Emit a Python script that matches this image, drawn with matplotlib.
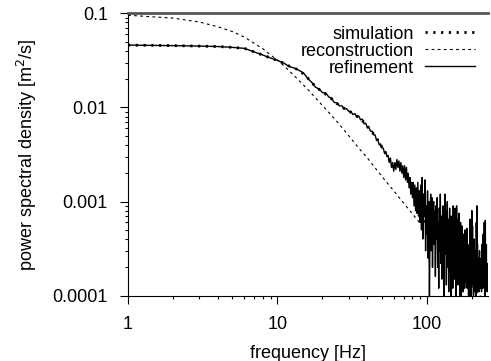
import matplotlib
matplotlib.use("Agg")
import matplotlib.pyplot as plt
from matplotlib.ticker import LogLocator, NullFormatter, FixedLocator, FixedFormatter
import numpy as np

plt.rcParams['font.family'] = ['Liberation Sans', 'DejaVu Sans']

# simulation (smooth, thick dotted)
sim_freq = [1, 2, 3, 4, 5, 6, 7, 8, 9, 10, 11, 12, 14, 16, 18, 20, 22, 25, 28, 32,
            36, 40, 45, 50, 55, 60, 65, 70, 75, 80, 85, 90, 100, 110, 120, 130, 140,
            150, 160, 175, 190, 200, 215, 230, 245, 256]
sim_psd = [4.60e-2, 4.54e-2, 4.49e-2, 4.44e-2, 4.35e-2, 4.25e-2, 3.89e-2, 3.60e-2,
           3.35e-2, 3.16e-2, 2.95e-2, 2.75e-2, 2.49e-2, 2.04e-2, 1.66e-2, 1.46e-2,
           1.32e-2, 1.10e-2, 9.77e-3, 8.63e-3, 7.59e-3, 6.31e-3, 5.01e-3, 3.80e-3,
           2.95e-3, 2.34e-3, 2.51e-3, 2.14e-3, 1.74e-3, 1.32e-3, 1.15e-3, 9.55e-4,
           5.0e-4, 3.8e-4, 3.4e-4, 3.0e-4, 2.7e-4, 2.4e-4, 2.2e-4, 1.9e-4, 1.66e-4,
           1.55e-4, 1.38e-4, 1.32e-4, 1.26e-4, 1.26e-4]

# reconstruction (thin dashed)
rec_freq = [1, 2, 3, 4, 5, 6, 7, 8, 9, 10, 12, 14, 16, 18, 20, 25, 30, 35, 40, 50,
            60, 70, 80, 90, 100, 120, 140, 160, 180, 200, 225, 256]
rec_psd = [0.0955, 0.089, 0.081, 0.072, 0.064, 0.056, 0.048, 0.042, 0.036, 0.032,
           0.0245, 0.0192, 0.0155, 0.0126, 0.0105, 0.0071, 0.0050, 0.0037, 0.0029,
           0.00185, 0.00130, 0.00096, 0.00074, 0.00059, 0.00048, 0.00034, 0.00025,
           0.000195, 0.000155, 0.000127, 0.000101, 0.000080]

# refinement (thin solid), one value per Hz from 1 to 256
ref_freq = list(range(1, 257))
ref_psd = [
    4.60e-2, 4.54e-2, 4.49e-2, 4.44e-2, 4.35e-2, 4.25e-2, 3.89e-2, 3.60e-2, 3.35e-2, 3.16e-2,
    2.97e-2, 2.72e-2, 2.62e-2, 2.47e-2, 2.31e-2, 2.02e-2, 1.84e-2, 1.64e-2, 1.57e-2, 1.44e-2,
    1.43e-2, 1.30e-2, 1.25e-2, 1.13e-2, 1.12e-2, 1.04e-2, 1.04e-2, 9.6e-3, 9.7e-3, 9.1e-3,
    9.1e-3, 8.4e-3, 8.6e-3, 7.9e-3, 8.1e-3, 7.4e-3, 7.5e-3, 6.7e-3, 6.8e-3, 6.1e-3,
    6.1e-3, 5.6e-3, 5.6e-3, 5.1e-3, 5.1e-3, 4.5e-3, 4.5e-3, 4.0e-3, 4.1e-3, 3.7e-3,
    3.7e-3, 3.3e-3, 3.4e-3, 3.0e-3, 3.1e-3, 2.6e-3, 2.9e-3, 2.3e-3, 2.6e-3, 2.1e-3,
    2.6e-3, 2.2e-3, 2.8e-3, 2.3e-3, 2.7e-3, 2.1e-3, 2.6e-3, 2.0e-3, 2.4e-3, 1.8e-3,
    2.4e-3, 1.7e-3, 2.3e-3, 1.6e-3, 2.0e-3, 1.4e-3, 1.8e-3, 1.2e-3, 1.6e-3, 1.1e-3,
    1.6e-3, 9.0e-4, 1.5e-3, 8.0e-4, 1.4e-3, 7.5e-4, 1.6e-3, 7.0e-4, 1.3e-3, 6.0e-4,
    1.5e-3, 5.0e-4, 1.8e-3, 4.0e-4, 1.2e-3, 7.0e-4, 1.7e-3, 3.0e-4, 9.0e-4, 4.5e-4,
    1.3e-3, 2.5e-4, 1.0e-3, 8.0e-5, 7.0e-4, 1.2e-3, 3.0e-4, 1.1e-3, 2.0e-4, 6.0e-4,
    1.0e-3, 3.5e-4, 8.0e-4, 1.6e-4, 9.0e-4, 4.0e-4, 1.1e-3, 2.0e-4, 6.0e-4, 1.2e-4,
    8.5e-4, 3.0e-4, 1.2e-3, 2.2e-4, 7.0e-4, 1.5e-4, 5.0e-4, 9.0e-4, 2.5e-4, 7.0e-5,
    6.0e-4, 1.2e-3, 3.0e-4, 8.0e-4, 1.3e-4, 5.5e-4, 1.0e-3, 2.0e-4, 6.5e-4, 1.1e-4,
    4.0e-4, 8.5e-4, 1.8e-4, 5.0e-4, 1.0e-4, 7.0e-4, 2.5e-4, 4.5e-4, 1.2e-4, 9.0e-4,
    3.0e-4, 5.5e-4, 1.5e-4, 8.5e-4, 2.0e-4, 4.0e-4, 6.0e-5, 9.0e-4, 2.5e-4, 5.0e-4,
    1.3e-4, 6.5e-4, 3.0e-4, 7.5e-4, 1.6e-4, 4.5e-4, 1.0e-4, 6.0e-4, 2.2e-4, 7.0e-5,
    4.0e-4, 5.5e-4, 1.4e-4, 3.5e-4, 1.1e-4, 4.5e-4, 2.0e-4, 3.0e-4, 1.2e-4, 5.0e-4,
    2.5e-4, 1.4e-4, 4.0e-4, 1.8e-4, 5.2e-4, 1.2e-4, 3.0e-4, 1.5e-4, 2.4e-4, 6.0e-5,
    2.0e-4, 3.5e-4, 1.0e-4, 6.5e-4, 1.5e-4, 2.8e-4, 1.1e-4, 7.0e-5, 3.0e-4, 8.0e-4,
    2.0e-4, 5.5e-4, 1.3e-4, 3.0e-4, 1.0e-4, 2.2e-4, 4.0e-4, 1.5e-4, 2.5e-4, 1.1e-4,
    3.0e-4, 1.4e-4, 7.0e-5, 6.0e-4, 2.0e-4, 9.0e-4, 1.3e-4, 3.5e-4, 1.1e-4, 2.5e-4,
    1.5e-4, 2.0e-4, 1.1e-4, 1.6e-4, 3.0e-4, 1.3e-4, 2.2e-4, 1.2e-4, 1.8e-4, 1.4e-4,
    2.5e-4, 1.1e-4, 1.7e-4, 3.5e-4, 1.2e-4, 2.0e-4, 1.4e-4, 4.5e-4, 1.6e-4, 2.3e-4,
    1.2e-4, 6.0e-4, 1.7e-4, 3.0e-4, 6.0e-5, 6.3e-4, 1.8e-4, 2.6e-4, 1.3e-4, 3.5e-4,
    1.4e-4, 2.2e-4, 1.1e-4, 1.8e-4, 1.3e-4, 2.0e-4,
]

x_ticks = [1, 10, 100]
x_tick_labels = ["1", "10", "100"]
y_ticks = [0.0001, 0.001, 0.01, 0.1]
y_tick_labels = ["0.0001", "0.001", "0.01", "0.1"]

fig = plt.figure(figsize=(4.91, 3.61), dpi=100)
ax = fig.add_axes([0.2607, 0.181, 0.733, 0.782])

ax.plot(sim_freq, sim_psd, color="black", lw=2.0, linestyle=(0, (0.8, 2.0)),
        label="simulation", zorder=2)
ax.plot(rec_freq, rec_psd, color="black", lw=0.8, linestyle=(0, (2.5, 3)),
        label="reconstruction", zorder=3)
ax.plot(ref_freq, ref_psd, color="black", lw=1.0, label="refinement", zorder=4)

ax.set_xscale("log")
ax.set_yscale("log")
ax.set_xlim(1, 256)
ax.set_ylim(0.0001, 0.1)

ax.xaxis.set_major_locator(FixedLocator(x_ticks))
ax.xaxis.set_major_formatter(FixedFormatter(x_tick_labels))
ax.yaxis.set_major_locator(FixedLocator(y_ticks))
ax.yaxis.set_major_formatter(FixedFormatter(y_tick_labels))
ax.xaxis.set_minor_locator(LogLocator(base=10, subs=np.arange(2, 10)))
ax.yaxis.set_minor_locator(LogLocator(base=10, subs=np.arange(2, 10)))
ax.xaxis.set_minor_formatter(NullFormatter())
ax.yaxis.set_minor_formatter(NullFormatter())

ax.tick_params(which="major", direction="out", length=5.5, width=0.8,
               labelsize=13, colors="black")
ax.tick_params(which="minor", direction="out", length=2.5, width=0.8)
ax.tick_params(axis="y", which="major", pad=9)
ax.tick_params(axis="x", which="major", pad=9.5)

ax.spines["right"].set_visible(False)
ax.spines["top"].set_color("#555555")
ax.spines["top"].set_linewidth(2.0)
ax.spines["left"].set_linewidth(0.8)
ax.spines["bottom"].set_linewidth(0.8)

ax.set_xlabel("frequency [Hz]", fontsize=13, labelpad=8.5)
ax.set_ylabel("power spectral density [m$^2$/s]", fontsize=13, labelpad=9.5)

ax.legend(loc="upper right", frameon=False, markerfirst=False, fontsize=13,
          handlelength=2.8, handletextpad=0.6, labelspacing=0.0,
          borderaxespad=0.2, bbox_to_anchor=(0.995, 0.995))

fig.savefig("out.png", dpi=100)
